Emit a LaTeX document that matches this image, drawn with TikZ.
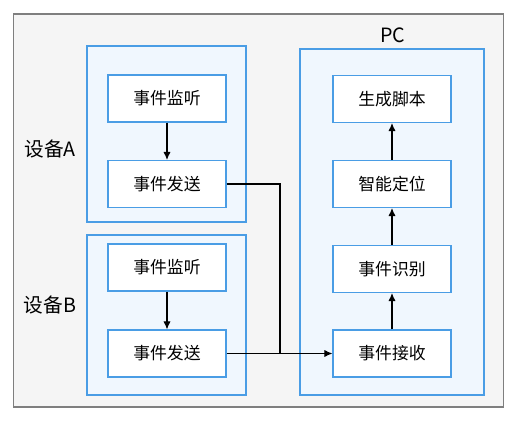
\documentclass[tikz,border=0pt]{standalone}
\usepackage{fontspec}
\setmainfont{Noto Sans CJK SC}
\usetikzlibrary{arrows.meta}
\usepackage{xcolor}
\definecolor{framegray}{HTML}{7F7F7F}
\definecolor{backgray}{HTML}{F5F5F5}
\definecolor{myblue}{HTML}{4A9DE5}
\definecolor{lightblue}{HTML}{F0F7FE}

\begin{document}
\begin{tikzpicture}
  [x=0.025cm, y=-0.025cm,
   outer/.style={draw=framegray, fill=backgray, line width=0.8pt,
     minimum width=12.225cm, minimum height=9.825cm, inner sep=0},
   group/.style={draw=myblue, fill=lightblue, line width=0.8pt, inner sep=0},
   task/.style={draw=myblue, fill=white, line width=0.8pt,
     minimum width=2.95cm, minimum height=1.175cm, inner sep=0,
     font=\fontsize{12}{14}\selectfont},
   devname/.style={font=\fontsize{14}{16}\selectfont},
   towards/.style={-{Latex[length=2mm, width=1.8mm]}, line width=0.75pt},
  ]
  \useasboundingbox (0,0) rectangle (529,421);

  \node[outer] (bg) at (258.5,210.5) {};

  \node[group, minimum width=3.975cm, minimum height=4.4cm] (devA) at (166.5,134) {};
  \node[group, minimum width=3.975cm, minimum height=4cm] (devB) at (166.5,315) {};
  \node[group, minimum width=4.6cm, minimum height=8.65cm] (pc) at (392,222) {};

  \node[devname] (nameA) at (50,149) {设备A};
  \node[devname] (nameB) at (50,305) {设备B};
  \node[devname] (namePC) at (393,35) {PC};

  \node[task] (a1) at (167,98.5) {事件监听};
  \node[task] (a2) at (167,184) {事件发送};
  \node[task] (b1) at (167,267.5) {事件监听};
  \node[task] (b2) at (167,353.5) {事件发送};

  \node[task] (p1) at (392,99) {生成脚本};
  \node[task] (p2) at (392,184) {智能定位};
  \node[task] (p3) at (392,269) {事件识别};
  \node[task] (p4) at (392,353.5) {事件接收};

  \coordinate (turn) at (280,353.5);

  \path (a1) edge[towards] (a2)
        (b1) edge[towards] (b2)
        (p4) edge[towards] (p3)
        (p3) edge[towards] (p2)
        (p2) edge[towards] (p1)
        (b2) edge[towards] (p4);
  \draw[line width=0.75pt] (a2) -| (turn);

\end{tikzpicture}
\end{document}
